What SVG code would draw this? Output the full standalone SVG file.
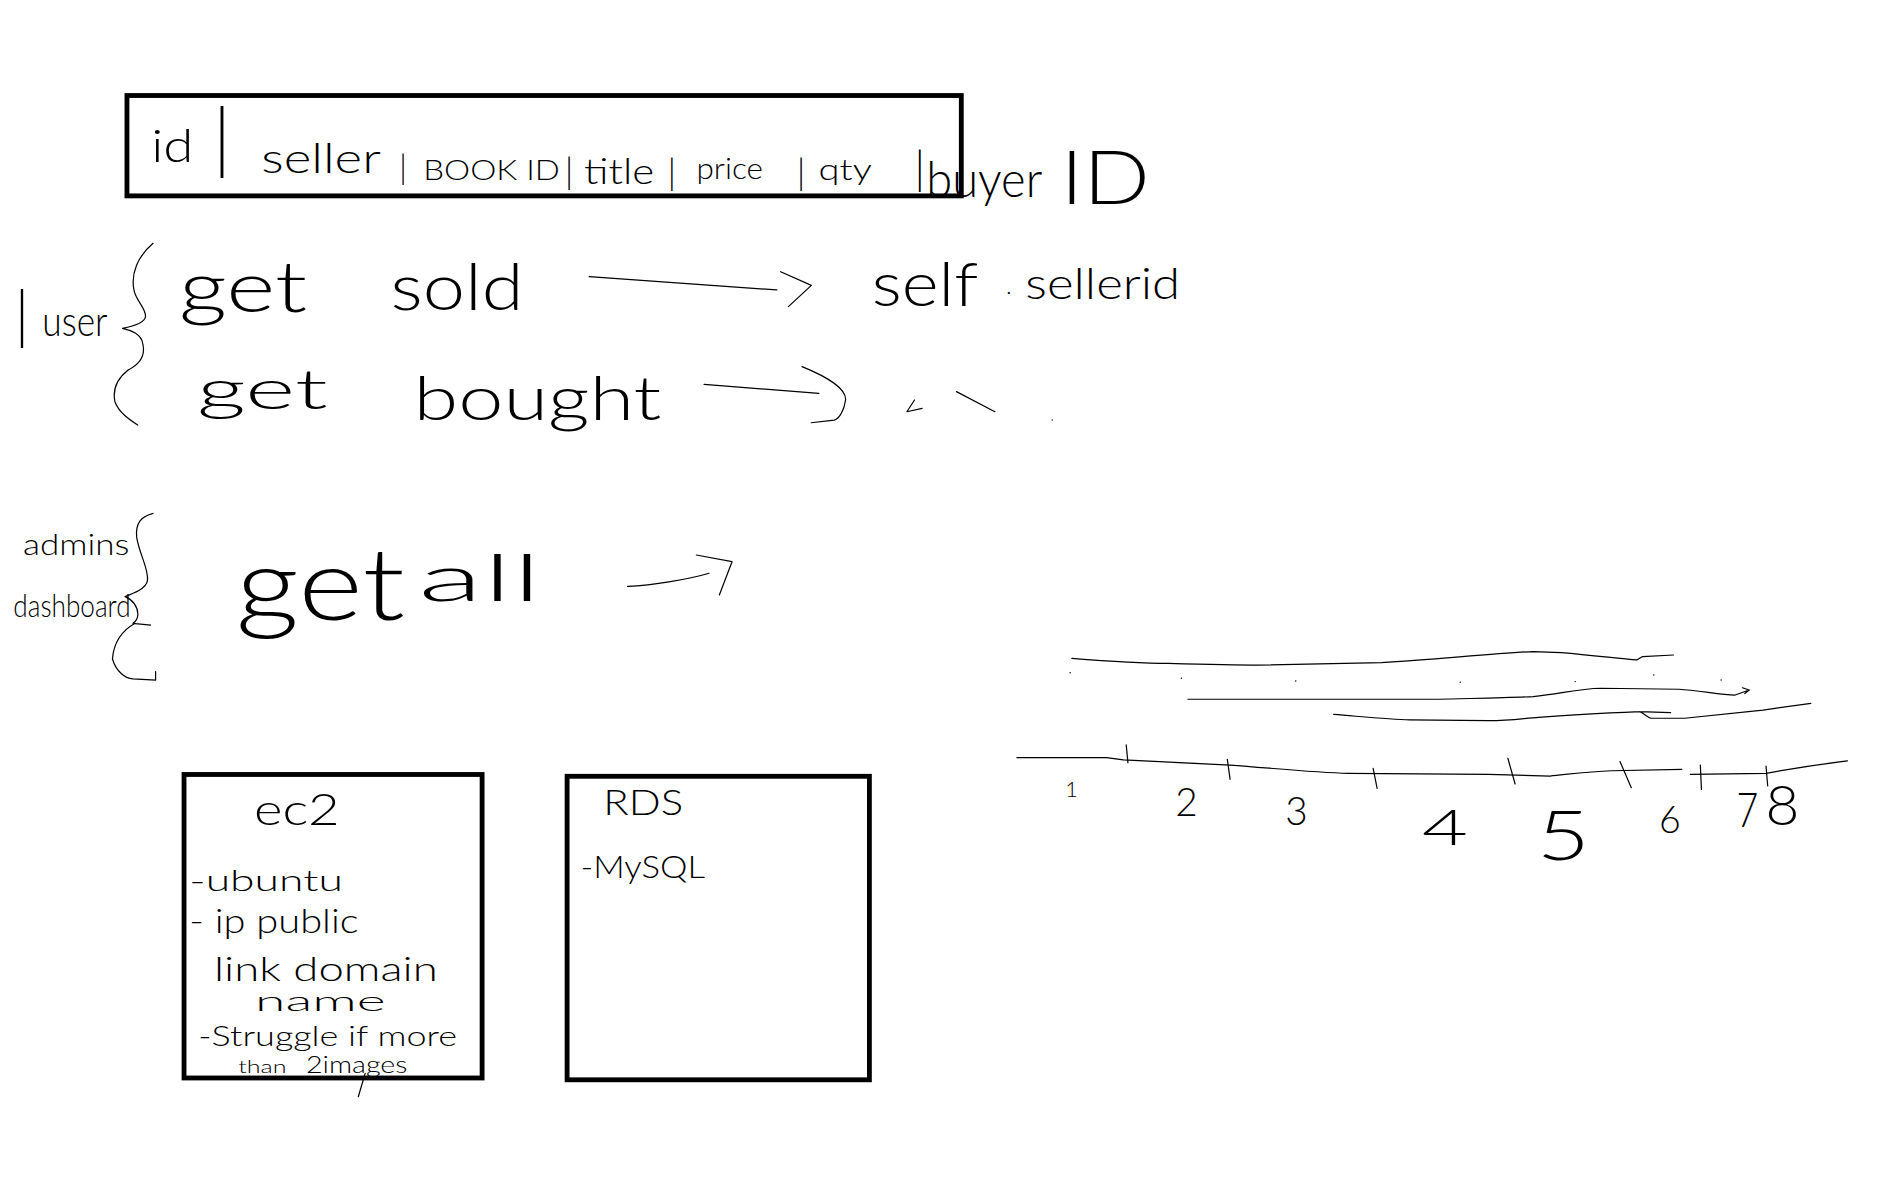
<svg xmlns="http://www.w3.org/2000/svg" width="1896" height="1192" viewBox="0 0 1896 1192">
<style>
.ink{fill:none;stroke:#000;stroke-width:1;stroke-linecap:round;stroke-linejoin:round}
.box{fill:none;stroke:#000;stroke-width:4}
.hw{font-family:Lato,Roboto,"Liberation Sans",sans-serif;font-weight:300;fill:#000}
.dot{fill:#000}
</style>
<rect width="1896" height="1192" fill="#fff"/>
<g transform="scale(1.20918)">
<g id="record-header">
<rect class="box" x="105" y="79" width="690" height="83"/>
<text class="hw" x="125" y="134" font-size="38" textLength="35" lengthAdjust="spacingAndGlyphs">id</text>
<text class="hw" x="176" y="136" font-size="64">|</text>
<text class="hw" x="216" y="143" font-size="34" textLength="99" lengthAdjust="spacingAndGlyphs">seller</text>
<text class="hw" x="330" y="148" font-size="28">|</text>
<text class="hw" x="350" y="149" font-size="22" textLength="113" lengthAdjust="spacingAndGlyphs">BOOK ID</text>
<text class="hw" x="467" y="152" font-size="30">|</text>
<text class="hw" x="483" y="152" font-size="30" textLength="58" lengthAdjust="spacingAndGlyphs">title</text>
<text class="hw" x="552" y="153" font-size="30">|</text>
<text class="hw" x="576" y="148" font-size="24" textLength="55" lengthAdjust="spacingAndGlyphs">price</text>
<text class="hw" x="659" y="153" font-size="30">|</text>
<text class="hw" x="677" y="149" font-size="24" textLength="44" lengthAdjust="spacingAndGlyphs">qty</text>
<text class="hw" x="756" y="152" font-size="38">|</text>
<text class="hw" x="766" y="163" font-size="40" textLength="96" lengthAdjust="spacingAndGlyphs">buyer</text>
<text class="hw" x="877" y="169" font-size="62" textLength="74" lengthAdjust="spacingAndGlyphs">ID</text>
</g>
<g id="user-queries">
<text class="hw" x="12" y="279" font-size="52">|</text>
<text class="hw" x="35" y="278" font-size="34" textLength="54" lengthAdjust="spacingAndGlyphs">user</text>
<path class="ink" d="M126.6,201.2 C114,212 108,226 110.8,240 C112.5,249 121,255 120.3,262 C119.5,267 109,270 101.3,271.5 C109,273 117,277 118,284 C120,292 118,300 106,306 C97,313 93,322 95,332 C98,341 107,347 113.9,351.5"/>
<text class="hw" x="148" y="258" font-size="58" textLength="106" lengthAdjust="spacingAndGlyphs">get</text>
<text class="hw" x="323" y="256" font-size="54" textLength="110" lengthAdjust="spacingAndGlyphs">sold</text>
<text class="hw" x="721" y="253" font-size="50" textLength="88" lengthAdjust="spacingAndGlyphs">self</text>
<text class="hw" x="832" y="243" font-size="20">.</text>
<text class="hw" x="848" y="247" font-size="36" textLength="128" lengthAdjust="spacingAndGlyphs">sellerid</text>
<text class="hw" x="163" y="338" font-size="46" textLength="108" lengthAdjust="spacingAndGlyphs">get</text>
<text class="hw" x="342" y="347" font-size="50" textLength="205" lengthAdjust="spacingAndGlyphs">bought</text>
<path class="ink" d="M756.3,330.8 L750,340.5 L762.6,337.7 M791,323.9 L822.8,340.5"/>
<circle class="dot" cx="870.2" cy="347.4" r="0.6"/>
</g>
<g id="admin-dashboard">
<text class="hw" x="19" y="459" font-size="25" textLength="88" lengthAdjust="spacingAndGlyphs">admins</text>
<text class="hw" x="11" y="510" font-size="26" textLength="97" lengthAdjust="spacingAndGlyphs">dashboard</text>
<path class="ink" d="M126.6,424.5 C117,427 112,432 113,444 C115,458 123,470 122,480 C121,487 110,491 103.4,493.4 C110,496 114,502 114,508 C114,512 112,514 110,515.5 L124.5,517 M111.8,515.5 C100,522 94,532 93,545 C96,555 103,561 110,561.5 L128.7,562.4 L128.7,555.4"/>
<text class="hw" font-size="84"><tspan x="195" y="513" textLength="140" lengthAdjust="spacingAndGlyphs">get</tspan><tspan x="346" y="497" font-size="54" textLength="102" lengthAdjust="spacingAndGlyphs">all</tspan></text>
</g>
<g id="connectors">
<path class="ink" d="M487.3,228.8 L642.4,239.8 M645.6,224.7 L671,236 L652,253.6"/>
<path class="ink" d="M582.3,317.9 L677.2,325.3 M663.3,303.2 C685,312 700,322 699.3,330.8 C698,340 694,346 689.9,347.4 L670.9,349.6"/>
<path class="ink" d="M519,485 C540,484 570,479 586.4,474.1 M575.9,459 L605.4,464.5 L594.9,492"/>
</g>
<g id="timeline">
<path class="ink" d="M886.4,544.4 C920,547 950,548.5 966.2,548.6 C1000,549.5 1020,550 1040.5,550 L1142.6,548 C1190,545 1240,540 1267.9,538.9 L1291,539.7 C1320,542 1340,545 1353.7,545.8 L1358.4,543 L1384,541.7"/>
<path class="ink" d="M982.5,578.3 L1189,578.3 C1220,577.5 1250,577 1267.9,576.1 C1290,574 1305,569.5 1323.6,569.2 L1388.5,570 C1405,571 1425,575 1435,574.8 L1446.6,570.6 M1441,568.8 L1446.6,570.6 L1443,573.6"/>
<path class="ink" d="M1103,590.8 C1130,593 1150,595 1165.8,595.4 L1230.8,596 C1250,596 1260,594 1272.5,593.2 C1300,591 1320,590 1356,588.5 L1381.6,589.4 M1356,588.5 C1360,590 1362,593 1365.3,594 L1393.2,594 C1420,591 1440,589 1458,587.2 L1497.6,581.7"/>
<path class="ink" d="M841,626.6 L915.2,626.6 L929,628.5 C960,630 990,631.5 1017.3,632.7 C1060,636 1090,639 1114.7,639.6 L1230.8,640.4 L1281.8,641.8 C1300,640 1315,638 1332.9,637.4 L1390.9,636.2 M1397.9,640.4 L1460.5,639.6 C1480,636 1505,632 1527.8,629.3"/>
<path class="ink" d="M931.4,616.1 L932.8,630.7 M1015,628 L1017.3,644.5 M1135.6,635.4 L1138.9,652 M1247,627.1 L1253,648.4 M1339.8,629.9 L1349.1,651.4 M1406.2,632.7 L1407.1,652.8 M1460.5,633.5 L1461.9,650"/>
<circle class="dot" cx="885" cy="556.3" r="0.6"/>
<circle class="dot" cx="977" cy="561" r="0.6"/>
<circle class="dot" cx="1071.6" cy="563.2" r="0.6"/>
<circle class="dot" cx="1207.6" cy="564.3" r="0.6"/>
<circle class="dot" cx="1302.7" cy="563.7" r="0.6"/>
<circle class="dot" cx="1367.7" cy="558.2" r="0.6"/>
<circle class="dot" cx="1423.4" cy="562.4" r="0.6"/>
<text class="hw" x="881" y="659" font-size="18">1</text>
<text class="hw" x="972" y="675" font-size="32">2</text>
<text class="hw" x="1063" y="682" font-size="32">3</text>
<text class="hw" x="1176" y="699" font-size="40" textLength="38" lengthAdjust="spacingAndGlyphs">4</text>
<text class="hw" x="1271" y="711" font-size="57" textLength="44" lengthAdjust="spacingAndGlyphs">5</text>
<text class="hw" x="1372" y="689" font-size="31">6</text>
<text class="hw" x="1436" y="684" font-size="39" textLength="18" lengthAdjust="spacingAndGlyphs">7</text>
<text class="hw" x="1460" y="682" font-size="46" textLength="28" lengthAdjust="spacingAndGlyphs">8</text>
</g>
<g id="ec2">
<rect class="box" x="152.2" y="640.5" width="246.5" height="251"/>
<text class="hw" x="210" y="682" font-size="36" textLength="71" lengthAdjust="spacingAndGlyphs">ec2</text>
<text class="hw" x="156.5" y="737" font-size="24" textLength="127" lengthAdjust="spacingAndGlyphs">-ubuntu</text>
<text class="hw" x="156.5" y="772" font-size="27" textLength="140" lengthAdjust="spacingAndGlyphs">- ip public</text>
<text class="hw" x="177" y="811" font-size="27" textLength="185" lengthAdjust="spacingAndGlyphs">link domain</text>
<text class="hw" x="211" y="836" font-size="23" textLength="108" lengthAdjust="spacingAndGlyphs">name</text>
<text class="hw" x="164" y="865" font-size="22" textLength="214" lengthAdjust="spacingAndGlyphs">-Struggle if more</text>
<text class="hw" x="197" y="887" font-size="14" textLength="40" lengthAdjust="spacingAndGlyphs">than</text>
<text class="hw" x="253" y="887" font-size="19" textLength="84" lengthAdjust="spacingAndGlyphs">2images</text>
<path class="ink" d="M302,887.7 L296.3,907"/>
</g>
<g id="rds">
<rect class="box" x="469" y="642" width="250" height="251"/>
<text class="hw" x="499" y="674" font-size="29" textLength="66" lengthAdjust="spacingAndGlyphs">RDS</text>
<text class="hw" x="480" y="726" font-size="26" textLength="103" lengthAdjust="spacingAndGlyphs">-MySQL</text>
</g>
</g>
</svg>
